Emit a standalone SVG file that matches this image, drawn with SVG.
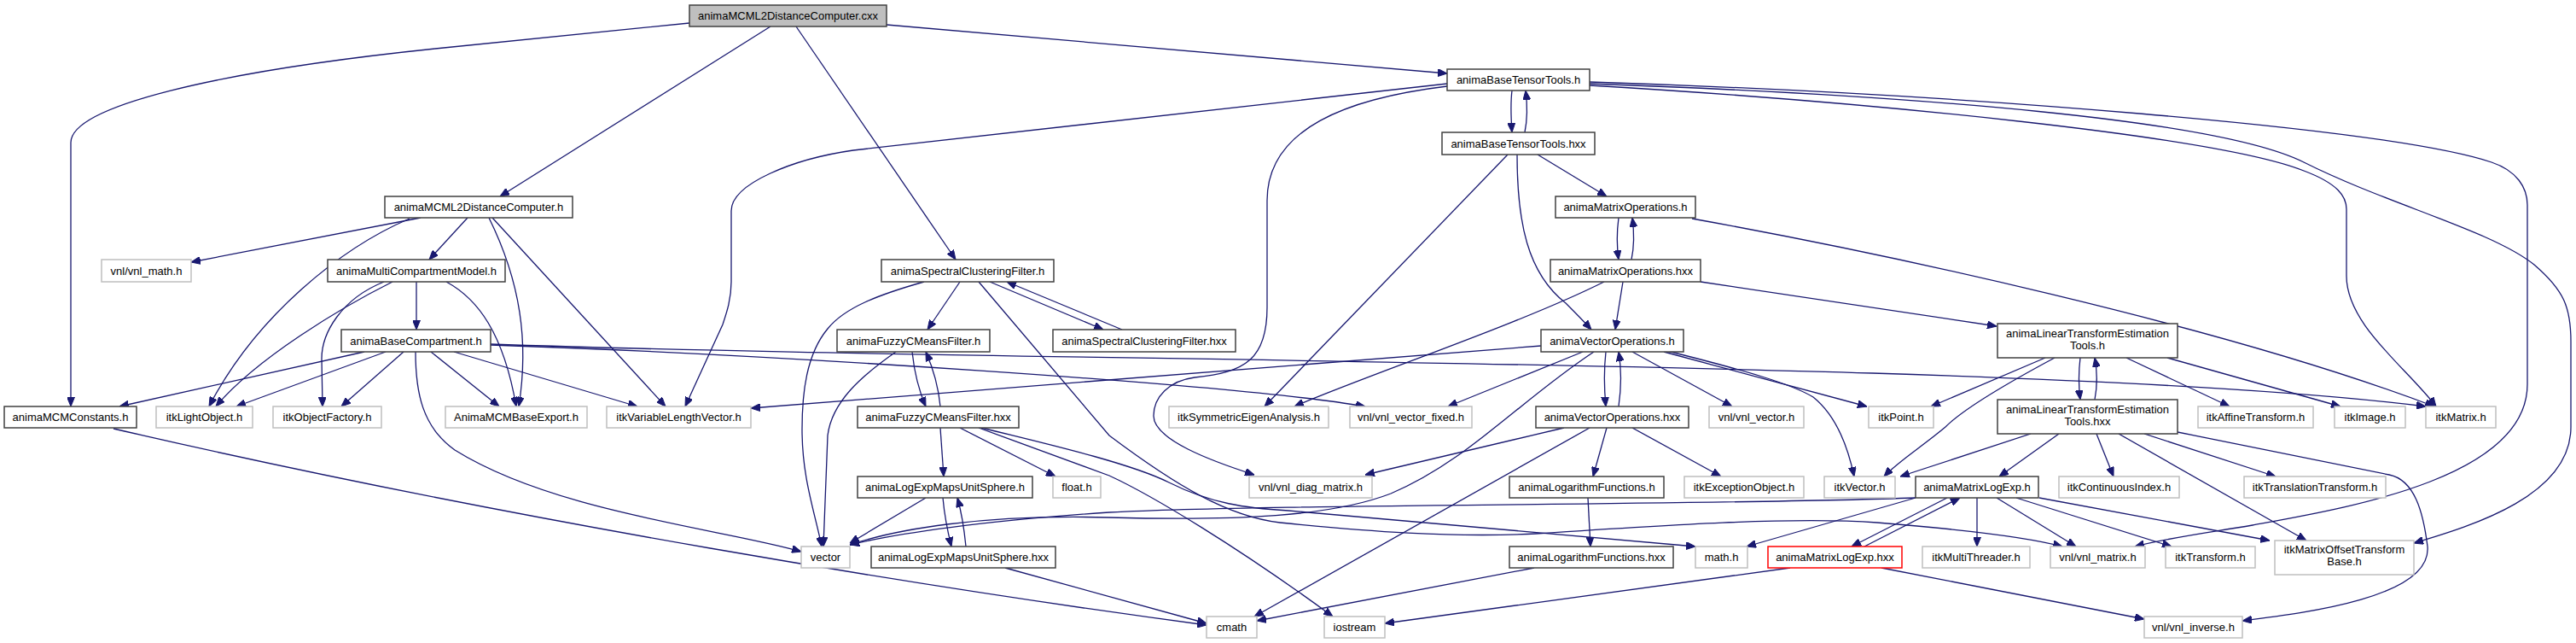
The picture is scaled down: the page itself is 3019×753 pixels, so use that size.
<svg xmlns="http://www.w3.org/2000/svg" width="3019" height="753" viewBox="0 0 3019 753">
<style>
text{font-family:"Liberation Sans",Arial,sans-serif;font-size:13px;fill:#000;text-anchor:middle}
rect{fill:#fff;stroke-width:1.5}
.d rect{stroke:#404040}
.u rect{stroke:#bfbfbf}
.r rect{fill:#bfbfbf;stroke:#404040}
.x rect{stroke:#ff0000}
#edges path{fill:none;stroke:#191970;stroke-width:1.3;marker-end:url(#ah)}
</style>
<defs>
<marker id="ah" markerWidth="11" markerHeight="9" refX="11" refY="4.5" orient="auto" markerUnits="userSpaceOnUse"><path d="M0,0 L11,4.5 L0,9 z" fill="#191970" stroke="#191970" stroke-width="1"/></marker>
</defs>
<rect x="0" y="0" width="3019" height="753" style="fill:#fff;stroke:none"/>
<g id="edges">
<path d="M808,27 L510,57 C250,84 83,125 83,167 L83,476"/>
<path d="M903,31 L586,230"/>
<path d="M933,31 L1120,304"/>
<path d="M1039,29 L1696,86"/>
<path d="M1772,106 C1770,122 1771,140 1772,155"/>
<path d="M1787,155 C1790,140 1790,122 1788,106"/>
<path d="M1696,98 L1000,176 C930,186 857,215 857,247 L857,330 C857,350 852,365 847,380 L803,476"/>
<path d="M1696,101 C1580,115 1485,150 1485,235 L1485,360 C1485,420 1460,436 1400,442 C1370,446 1352,465 1352,487 C1352,515 1420,540 1470,556"/>
<path d="M1863,100 C2200,120 2600,160 2700,200 C2740,215 2750,230 2750,245 L2750,323 C2750,380 2820,430 2855,476"/>
<path d="M1863,96 C2300,110 2800,150 2920,190 C2950,200 2962,220 2962,240 L2962,450 C2962,560 2750,595 2640,615 C2580,625 2540,630 2502,640"/>
<path d="M1863,98 C2250,112 2600,140 2700,190 C2800,240 2920,270 2970,310 C3005,340 3013,360 3013,400 L3013,500 C3013,580 2900,615 2829,636"/>
<path d="M1897,255 C1895,270 1895,290 1897,304"/>
<path d="M1912,304 C1915,290 1915,270 1913,255"/>
<path d="M1983,256 C2200,295 2600,380 2853,476"/>
<path d="M1767,181 L1482,476"/>
<path d="M1802,181 L1883,230"/>
<path d="M1778,181 C1778,260 1790,320 1835,355 C1845,365 1855,375 1865,386"/>
<path d="M1880,330 C1780,380 1600,440 1517,476"/>
<path d="M1902,330 L1893,386"/>
<path d="M1993,330 L2340,382"/>
<path d="M1882,412 C1880,430 1880,455 1882,476"/>
<path d="M1897,476 C1900,455 1900,430 1897,412"/>
<path d="M1806,405 L880,478"/>
<path d="M1855,412 L1697,476"/>
<path d="M1868,412 C1780,470 1720,540 1630,578 C1560,605 1450,610 1300,606 C1150,602 1050,620 996,638"/>
<path d="M1913,412 L2030,476"/>
<path d="M1950,412 L2188,476"/>
<path d="M1950,410 C2050,435 2100,450 2125,465 C2150,485 2165,520 2173,558"/>
<path d="M1833,501 L1600,556"/>
<path d="M1863,501 L1470,722"/>
<path d="M1883,501 L1867,558"/>
<path d="M1913,501 L2017,558"/>
<path d="M2438,419 C2436,435 2436,452 2438,468"/>
<path d="M2455,468 C2458,452 2458,435 2455,419"/>
<path d="M2397,419 L2263,476"/>
<path d="M2408,419 C2350,450 2300,480 2280,500 C2250,525 2225,540 2208,558"/>
<path d="M2492,419 L2613,476"/>
<path d="M2540,419 L2743,476"/>
<path d="M2380,508 L2227,558"/>
<path d="M2413,508 L2343,558"/>
<path d="M2457,508 L2477,558"/>
<path d="M2513,508 L2667,558"/>
<path d="M2483,508 L2703,633"/>
<path d="M2552,506 L2800,556 C2830,562 2840,600 2845,640 C2850,700 2700,718 2628,727"/>
<path d="M548,255 L503,304"/>
<path d="M493,255 L224,307"/>
<path d="M480,256 C400,290 300,370 245,476"/>
<path d="M573,255 C610,330 620,400 608,476"/>
<path d="M577,255 L780,476"/>
<path d="M488,330 L488,386"/>
<path d="M460,330 C400,360 300,420 253,476"/>
<path d="M450,330 C400,350 377,390 377,420 L378,476"/>
<path d="M523,330 C560,350 590,390 605,476"/>
<path d="M427,412 L140,476"/>
<path d="M452,412 L277,476"/>
<path d="M473,412 L400,476"/>
<path d="M487,412 C487,460 495,500 533,527 C650,600 850,620 939,646"/>
<path d="M505,412 L585,476"/>
<path d="M532,412 L747,476"/>
<path d="M575,404 C900,415 1450,450 1600,476"/>
<path d="M575,403 C1200,425 2400,420 2843,476"/>
<path d="M133,502 C600,610 1100,690 1414,732"/>
<path d="M1125,330 L1087,386"/>
<path d="M1083,330 C1030,345 990,360 970,385 C945,415 940,460 940,503 C940,560 955,600 963,640"/>
<path d="M1160,330 L1293,386"/>
<path d="M1315,386 L1180,330"/>
<path d="M1147,330 L1300,510 C1380,570 1440,605 1500,612 C1600,622 1700,630 1800,625 C1950,615 2100,605 2200,612 C2300,620 2380,630 2417,640"/>
<path d="M1069,412 C1072,440 1078,460 1085,476"/>
<path d="M1102,476 C1100,455 1093,430 1085,412"/>
<path d="M1050,412 C1010,440 975,470 970,510 L965,640"/>
<path d="M1102,501 L1106,558"/>
<path d="M1125,501 L1237,558"/>
<path d="M1147,501 L1300,557 C1350,580 1450,640 1562,722"/>
<path d="M1150,501 C1250,525 1330,545 1370,565 C1420,590 1460,595 1510,598 L1987,640"/>
<path d="M1105,583 C1107,605 1110,620 1115,640"/>
<path d="M1132,640 C1130,620 1127,600 1122,583"/>
<path d="M1085,583 L996,636"/>
<path d="M1178,665 L1414,730"/>
<path d="M1861,583 L1864,640"/>
<path d="M1798,665 L1473,727"/>
<path d="M2245,583 C2000,592 1500,590 1300,600 C1150,610 1050,625 996,638"/>
<path d="M2245,583 L2047,640"/>
<path d="M2282,583 L2170,640"/>
<path d="M2185,640 L2297,583"/>
<path d="M2317,583 L2317,640"/>
<path d="M2340,583 L2433,640"/>
<path d="M2363,583 L2545,640"/>
<path d="M2390,583 L2660,633"/>
<path d="M2098,665 L1623,730"/>
<path d="M2205,665 L2513,725"/>
</g>
<g id="n_cxx" class="r"><rect x="808" y="6" width="231" height="25"/><text x="923.5" y="23">animaMCML2DistanceComputer.cxx</text></g>
<g id="n_btt_h" class="d"><rect x="1696" y="81" width="167" height="25"/><text x="1779.5" y="98">animaBaseTensorTools.h</text></g>
<g id="n_btt_hxx" class="d"><rect x="1690" y="155" width="179" height="26"/><text x="1779.5" y="172.5">animaBaseTensorTools.hxx</text></g>
<g id="n_mcml2_h" class="d"><rect x="451" y="230" width="220" height="25"/><text x="561" y="247">animaMCML2DistanceComputer.h</text></g>
<g id="n_mo_h" class="d"><rect x="1823" y="230" width="164" height="25"/><text x="1905" y="247">animaMatrixOperations.h</text></g>
<g id="n_vnl_math" class="u"><rect x="119" y="304" width="105" height="26"/><text x="171.5" y="321.5">vnl/vnl_math.h</text></g>
<g id="n_mcm_model" class="d"><rect x="384" y="304" width="208" height="26"/><text x="488" y="321.5">animaMultiCompartmentModel.h</text></g>
<g id="n_scf_h" class="d"><rect x="1033" y="304" width="202" height="26"/><text x="1134" y="321.5">animaSpectralClusteringFilter.h</text></g>
<g id="n_mo_hxx" class="d"><rect x="1817" y="304" width="176" height="26"/><text x="1905" y="321.5">animaMatrixOperations.hxx</text></g>
<g id="n_bcomp" class="d"><rect x="400" y="386" width="175" height="26"/><text x="487.5" y="403.5">animaBaseCompartment.h</text></g>
<g id="n_fcm_h" class="d"><rect x="981" y="386" width="179" height="26"/><text x="1070.5" y="403.5">animaFuzzyCMeansFilter.h</text></g>
<g id="n_scf_hxx" class="d"><rect x="1234" y="386" width="214" height="26"/><text x="1341" y="403.5">animaSpectralClusteringFilter.hxx</text></g>
<g id="n_vo_h" class="d"><rect x="1806" y="386" width="167" height="26"/><text x="1889.5" y="403.5">animaVectorOperations.h</text></g>
<g id="n_lte_h" class="d"><rect x="2341" y="379" width="211" height="40"/><text x="2446.5" y="395">animaLinearTransformEstimation</text><text x="2446.5" y="409">Tools.h</text></g>
<g id="n_mcmconst" class="d"><rect x="5" y="476" width="155" height="25"/><text x="82.5" y="493">animaMCMConstants.h</text></g>
<g id="n_itkLightObject" class="u"><rect x="183" y="476" width="113" height="25"/><text x="239.5" y="493">itkLightObject.h</text></g>
<g id="n_itkObjectFactory" class="u"><rect x="320" y="476" width="127" height="25"/><text x="383.5" y="493">itkObjectFactory.h</text></g>
<g id="n_mcmexport" class="u"><rect x="522" y="476" width="166" height="25"/><text x="605" y="493">AnimaMCMBaseExport.h</text></g>
<g id="n_itkVLV" class="u"><rect x="711" y="476" width="169" height="25"/><text x="795.5" y="493">itkVariableLengthVector.h</text></g>
<g id="n_fcm_hxx" class="d"><rect x="1005" y="476" width="189" height="25"/><text x="1099.5" y="493">animaFuzzyCMeansFilter.hxx</text></g>
<g id="n_itkSym" class="u"><rect x="1370" y="476" width="187" height="25"/><text x="1463.5" y="493">itkSymmetricEigenAnalysis.h</text></g>
<g id="n_vnl_vector_fixed" class="u"><rect x="1582" y="476" width="143" height="25"/><text x="1653.5" y="493">vnl/vnl_vector_fixed.h</text></g>
<g id="n_vo_hxx" class="d"><rect x="1800" y="476" width="179" height="25"/><text x="1889.5" y="493">animaVectorOperations.hxx</text></g>
<g id="n_vnl_vector" class="u"><rect x="2003" y="476" width="111" height="25"/><text x="2058.5" y="493">vnl/vnl_vector.h</text></g>
<g id="n_itkPoint" class="u"><rect x="2190" y="476" width="76" height="25"/><text x="2228" y="493">itkPoint.h</text></g>
<g id="n_lte_hxx" class="d"><rect x="2341" y="468" width="211" height="40"/><text x="2446.5" y="484">animaLinearTransformEstimation</text><text x="2446.5" y="498">Tools.hxx</text></g>
<g id="n_itkAffine" class="u"><rect x="2576" y="476" width="135" height="25"/><text x="2643.5" y="493">itkAffineTransform.h</text></g>
<g id="n_itkImage" class="u"><rect x="2736" y="476" width="83" height="25"/><text x="2777.5" y="493">itkImage.h</text></g>
<g id="n_itkMatrix" class="u"><rect x="2843" y="476" width="82" height="25"/><text x="2884" y="493">itkMatrix.h</text></g>
<g id="n_lem_h" class="d"><rect x="1005" y="558" width="205" height="25"/><text x="1107.5" y="575">animaLogExpMapsUnitSphere.h</text></g>
<g id="n_float" class="u"><rect x="1234" y="558" width="56" height="25"/><text x="1262" y="575">float.h</text></g>
<g id="n_vnl_diag" class="u"><rect x="1464" y="558" width="144" height="25"/><text x="1536" y="575">vnl/vnl_diag_matrix.h</text></g>
<g id="n_lf_h" class="d"><rect x="1769" y="558" width="181" height="25"/><text x="1859.5" y="575">animaLogarithmFunctions.h</text></g>
<g id="n_itkExc" class="u"><rect x="1974" y="558" width="140" height="25"/><text x="2044" y="575">itkExceptionObject.h</text></g>
<g id="n_itkVector" class="u"><rect x="2138" y="558" width="83" height="25"/><text x="2179.5" y="575">itkVector.h</text></g>
<g id="n_mle_h" class="d"><rect x="2245" y="558" width="144" height="25"/><text x="2317" y="575">animaMatrixLogExp.h</text></g>
<g id="n_itkCI" class="u"><rect x="2413" y="558" width="141" height="25"/><text x="2483.5" y="575">itkContinuousIndex.h</text></g>
<g id="n_itkTT" class="u"><rect x="2630" y="558" width="166" height="25"/><text x="2713" y="575">itkTranslationTransform.h</text></g>
<g id="n_vector" class="u"><rect x="939" y="640" width="57" height="25"/><text x="967.5" y="657">vector</text></g>
<g id="n_lem_hxx" class="d"><rect x="1021" y="640" width="216" height="25"/><text x="1129" y="657">animaLogExpMapsUnitSphere.hxx</text></g>
<g id="n_lf_hxx" class="d"><rect x="1769" y="640" width="192" height="25"/><text x="1865" y="657">animaLogarithmFunctions.hxx</text></g>
<g id="n_math" class="u"><rect x="1987" y="640" width="61" height="25"/><text x="2017.5" y="657">math.h</text></g>
<g id="n_mle_hxx" class="x"><rect x="2072" y="640" width="157" height="25"/><text x="2150.5" y="657">animaMatrixLogExp.hxx</text></g>
<g id="n_itkMT" class="u"><rect x="2253" y="640" width="126" height="25"/><text x="2316" y="657">itkMultiThreader.h</text></g>
<g id="n_vnl_matrix" class="u"><rect x="2403" y="640" width="111" height="25"/><text x="2458.5" y="657">vnl/vnl_matrix.h</text></g>
<g id="n_itkTransform" class="u"><rect x="2538" y="640" width="105" height="25"/><text x="2590.5" y="657">itkTransform.h</text></g>
<g id="n_itkMOTB" class="u"><rect x="2666" y="633" width="163" height="40"/><text x="2747.5" y="648">itkMatrixOffsetTransform</text><text x="2747.5" y="662">Base.h</text></g>
<g id="n_cmath" class="u"><rect x="1414" y="722" width="59" height="25"/><text x="1443.5" y="739">cmath</text></g>
<g id="n_iostream" class="u"><rect x="1552" y="722" width="71" height="25"/><text x="1587.5" y="739">iostream</text></g>
<g id="n_vnl_inverse" class="u"><rect x="2513" y="722" width="115" height="25"/><text x="2570.5" y="739">vnl/vnl_inverse.h</text></g>
</svg>
